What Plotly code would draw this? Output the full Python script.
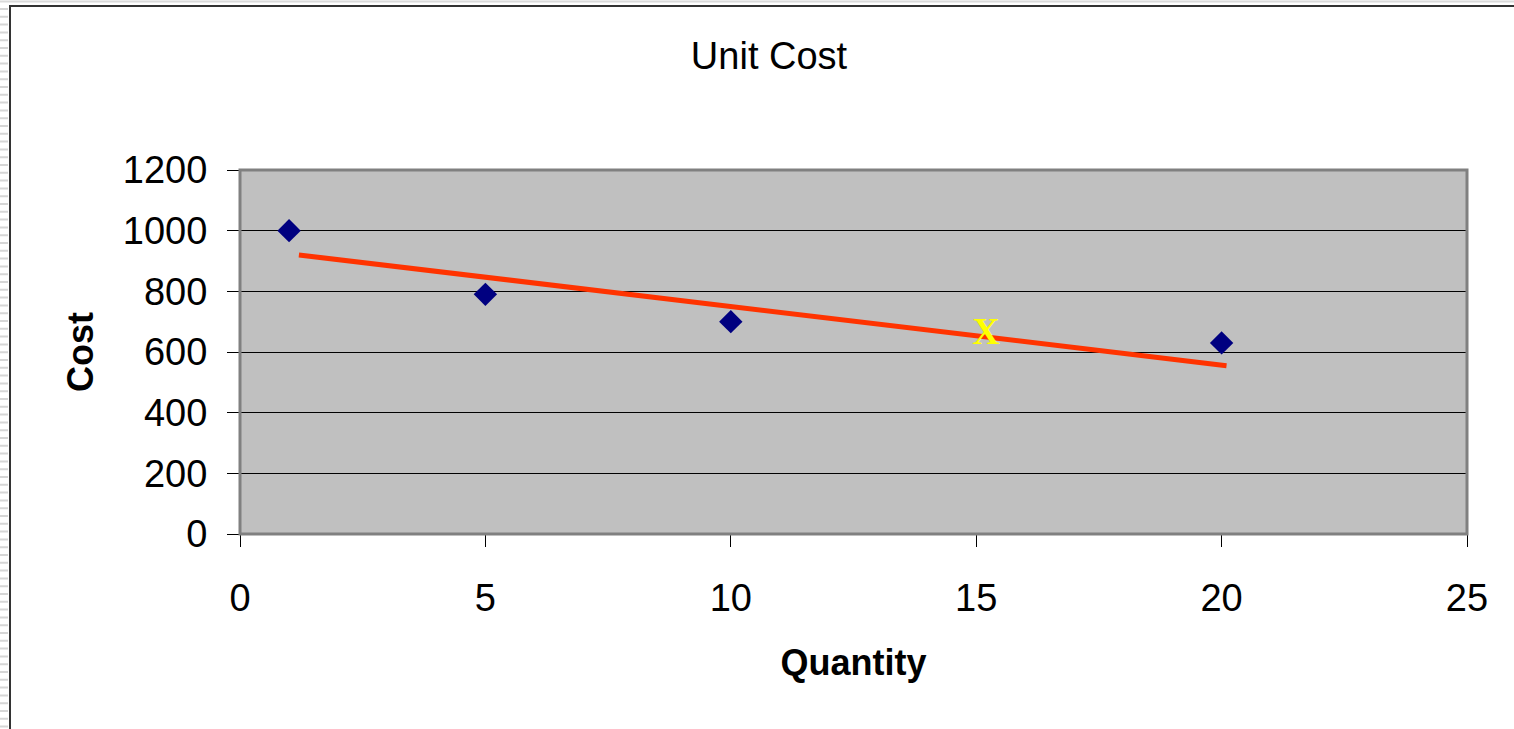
import plotly.graph_objects as go

# Observed unit cost by order quantity
quantity = [1, 5, 10, 20]
unit_cost = [1000, 790, 700, 630]

# Straight-line cost trend
trend_qty = [1.2, 20.1]
trend_cost = [920, 555]

# Estimated point marked with an "X"
estimate_qty = [15.2]
estimate_cost = [658]

x_ticks = [0, 5, 10, 15, 20, 25]
y_ticks = [0, 200, 400, 600, 800, 1000, 1200]

W, H = 1514, 729
ML, MR, MT, MB = 240, 47, 170, 195
PW, PH = W - ML - MR, H - MT - MB


def px_x(p):
    return (p - ML) / PW


def px_y(p):
    return (H - MB - p) / PH


fig = go.Figure()

fig.add_trace(go.Scatter(
    x=trend_qty, y=trend_cost, mode="lines",
    line=dict(color="#FF3300", width=5),
    showlegend=False, hoverinfo="skip",
))

fig.add_trace(go.Scatter(
    x=quantity, y=unit_cost, mode="markers",
    marker=dict(symbol="diamond", size=18, color="#000080", line=dict(width=0)),
    showlegend=False,
))

fig.add_trace(go.Scatter(
    x=estimate_qty, y=estimate_cost, mode="text", text=["X"],
    textposition="middle center",
    textfont=dict(family="Liberation Serif", size=38, color="#FFFF00", weight="bold"),
    showlegend=False,
))

axis_font = dict(family="Liberation Sans, Arial, sans-serif", size=38, color="black")
title_font = dict(family="Liberation Sans, Arial, sans-serif", size=36, color="black", weight="bold")

fig.update_xaxes(
    range=[0, 25], tickvals=x_ticks, ticktext=[str(v) for v in x_ticks],
    showgrid=False, zeroline=False,
    showline=True, linecolor="black", linewidth=1,
    ticks="outside", ticklen=12, tickcolor="black", tickwidth=1,
    tickfont=axis_font, ticklabelstandoff=18,
    title=dict(text="Quantity", font=title_font, standoff=32),
)
fig.update_yaxes(
    range=[0, 1200], tickvals=y_ticks, ticktext=[str(v) for v in y_ticks],
    showgrid=True, gridcolor="black", gridwidth=1, zeroline=False,
    showline=True, linecolor="black", linewidth=1,
    ticks="outside", ticklen=12, tickcolor="black", tickwidth=1,
    tickfont=axis_font, ticklabelstandoff=12,
    title=dict(text="Cost", font=title_font, standoff=18),
)

shapes = [
    # plot area border
    dict(type="rect", xref="paper", yref="paper", x0=0, y0=0, x1=1, y1=1,
         line=dict(color="#808080", width=3), layer="above"),
    # outer frame: light band at top, dark top and left borders
    dict(type="line", xref="paper", yref="paper",
         x0=px_x(0), x1=px_x(W), y0=px_y(1.5), y1=px_y(1.5),
         line=dict(color="#DADADA", width=2)),
    dict(type="line", xref="paper", yref="paper",
         x0=px_x(9), x1=px_x(W), y0=px_y(6), y1=px_y(6),
         line=dict(color="#333333", width=2)),
    dict(type="line", xref="paper", yref="paper",
         x0=px_x(10), x1=px_x(10), y0=px_y(5), y1=px_y(H),
         line=dict(color="#333333", width=2)),
]

# ruled stripes along the left edge
stripe_path = ""
yy = 9.0
while yy < H:
    stripe_path += f"M{px_x(0)},{px_y(yy)} L{px_x(8)},{px_y(yy)} "
    yy += 7.8
shapes.append(dict(type="path", xref="paper", yref="paper", path=stripe_path,
                   line=dict(color="#D6D6D6", width=2)))

fig.update_layout(
    width=W, height=H,
    margin=dict(l=ML, r=MR, t=MT, b=MB, autoexpand=False),
    paper_bgcolor="white", plot_bgcolor="#C0C0C0",
    title=dict(text="Unit Cost", x=769 / W, xanchor="center",
               y=1 - 56 / H, yanchor="middle",
               font=dict(family="Liberation Sans, Arial, sans-serif", size=38, color="black")),
    shapes=shapes,
    hovermode=False,
)

fig.write_html("out.html")
